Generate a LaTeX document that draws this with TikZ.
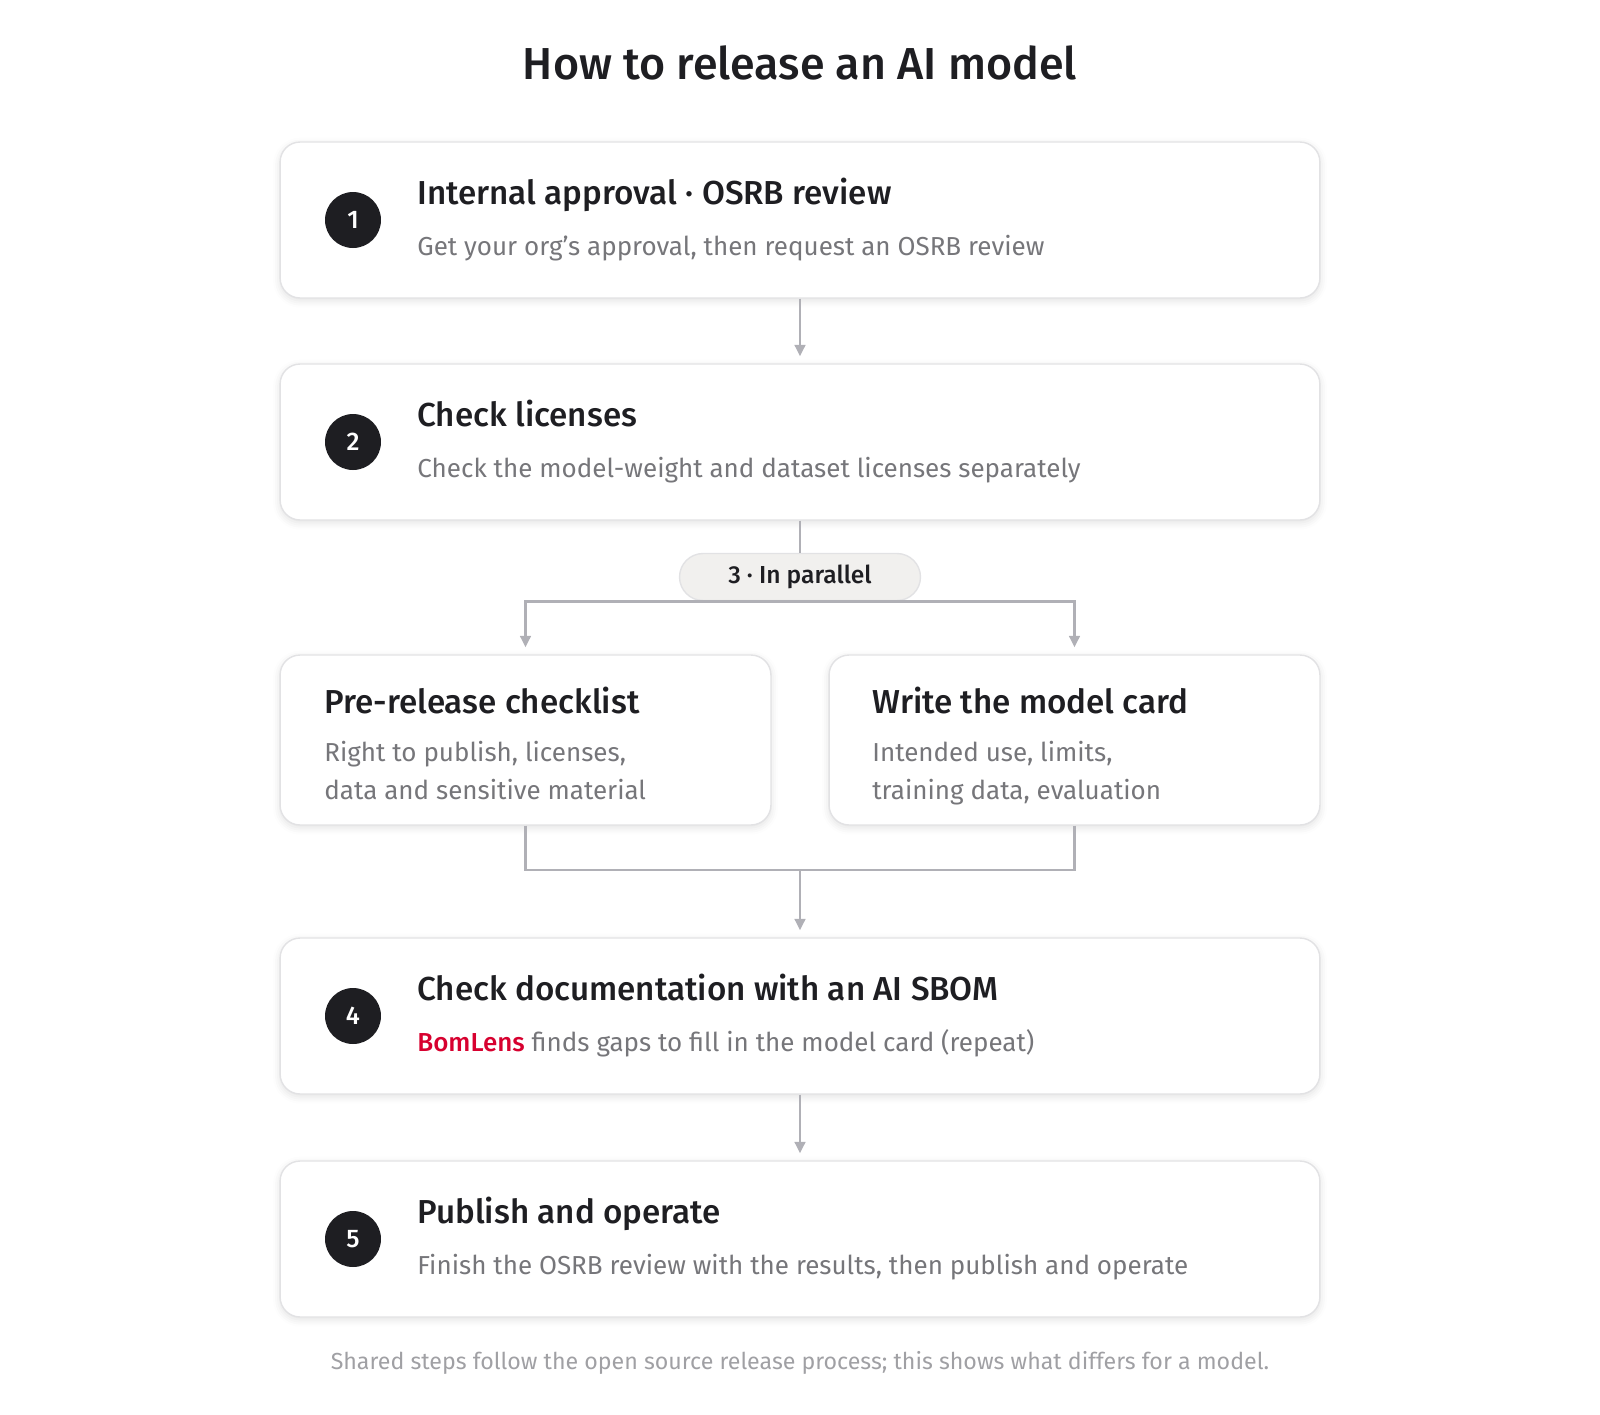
\documentclass[tikz,border=0pt]{standalone}
\usepackage{fontspec}
\setmainfont{Fira Sans}[BoldFont={Fira Sans Medium}]
\usetikzlibrary{arrows.meta,positioning,shadows.blur}
\definecolor{inkdark}{HTML}{1E1E22}
\definecolor{subgray}{HTML}{76767A}
\definecolor{linegray}{HTML}{B0B0B6}
\definecolor{edgegray}{HTML}{E2E2E4}
\definecolor{pillfill}{HTML}{F1F0EE}
\definecolor{lensred}{HTML}{D7002F}
\definecolor{notegray}{HTML}{A0A0A4}
\begin{document}
\begin{tikzpicture}[x=0.02cm,y=-0.02cm]
  \tikzstyle{stepbox}=[draw=edgegray, line width=0.8pt, fill=white, rounded corners=0.4cm, minimum width=20.8cm, minimum height=3.12cm, blur shadow={shadow xshift=0pt, shadow yshift=-1.5pt, shadow blur radius=4pt, shadow opacity=12}]
  \tikzstyle{halfbox}=[stepbox, minimum width=9.82cm, minimum height=3.4cm]
  \tikzstyle{badge}=[circle, fill=inkdark, text=white, minimum size=1.12cm, inner sep=0pt, font=\fontsize{14.5}{14.5}\selectfont\bfseries]
  \tikzstyle{head}=[anchor=base west, inner sep=0pt, text=inkdark, font=\fontsize{18.9}{18.9}\selectfont\bfseries]
  \tikzstyle{desc}=[anchor=base west, inner sep=0pt, text=subgray, font=\fontsize{14.8}{14.8}\selectfont]
  \tikzstyle{pill}=[draw=edgegray, line width=0.8pt, fill=pillfill, rounded corners=0.47cm, minimum width=4.82cm, minimum height=0.94cm, text=inkdark, font=\fontsize{14}{14}\selectfont\bfseries]
  \tikzstyle{flow}=[draw=linegray, line width=1.6pt]
  \tikzstyle{arr}=[flow, -{Triangle[length=6.5pt,width=6pt]}, shorten >=4pt]
  \useasboundingbox (0,0) rectangle (1600,1414);

  \node[text=inkdark, font=\fontsize{25.5}{25.5}\selectfont\bfseries] (title) at (800,63) {How to release an AI model};

  % step 1
  \node[stepbox] (s1) at (800,220) {};
  \node[badge] (b1) at (353,220) {1};
  \node[head] (h1) at (417,204) {Internal approval · OSRB review};
  \node[desc] (d1) at (417,255) {Get your org's approval, then request an OSRB review};

  % step 2
  \node[stepbox] (s2) at (800,442) {};
  \node[badge] (b2) at (353,442) {2};
  \node[head] (h2) at (417,426) {Check licenses};
  \node[desc] (d2) at (417,477) {Check the model-weight and dataset licenses separately};

  % step 3, two in parallel
  \node[pill] (par) at (800,577) {3 · In parallel};
  \node[halfbox] (p1) at (525.5,740) {};
  \node[head] (h3a) at (324,713) {Pre-release checklist};
  \node[desc] (d3a) at (324,761) {Right to publish, licenses,};
  \node[desc] (e3a) at (324,799) {data and sensitive material};
  \node[halfbox] (p2) at (1074.5,740) {};
  \node[head] (h3b) at (872,713) {Write the model card};
  \node[desc] (d3b) at (872,761) {Intended use, limits,};
  \node[desc] (e3b) at (872,799) {training data, evaluation};

  % step 4
  \node[stepbox] (s4) at (800,1016) {};
  \node[badge] (b4) at (353,1016) {4};
  \node[head] (h4) at (417,1000) {Check documentation with an AI SBOM};
  \node[desc] (d4) at (417,1051) {\textcolor{lensred}{\bfseries BomLens} finds gaps to fill in the model card (repeat)};

  % step 5
  \node[stepbox] (s5) at (800,1239) {};
  \node[badge] (b5) at (353,1239) {5};
  \node[head] (h5) at (417,1223) {Publish and operate};
  \node[desc] (d5) at (417,1274) {Finish the OSRB review with the results, then publish and operate};

  \node[text=notegray, font=\fontsize{13.2}{13.2}\selectfont] (note) at (800,1363) {Shared steps follow the open source release process; this shows what differs for a model.};

  % connectors
  \coordinate (join) at (800,870);
  \draw[arr] (s1) -- (s2);
  \draw[flow] (s2) -- (par);
  \draw[arr] (par.south) -| (p1.north);
  \draw[arr] (par.south) -| (p2.north);
  \draw[flow] (p1.south) |- (join);
  \draw[flow] (p2.south) |- (join);
  \draw[arr] (join) -- (s4);
  \draw[arr] (s4) -- (s5);
\end{tikzpicture}
\end{document}
